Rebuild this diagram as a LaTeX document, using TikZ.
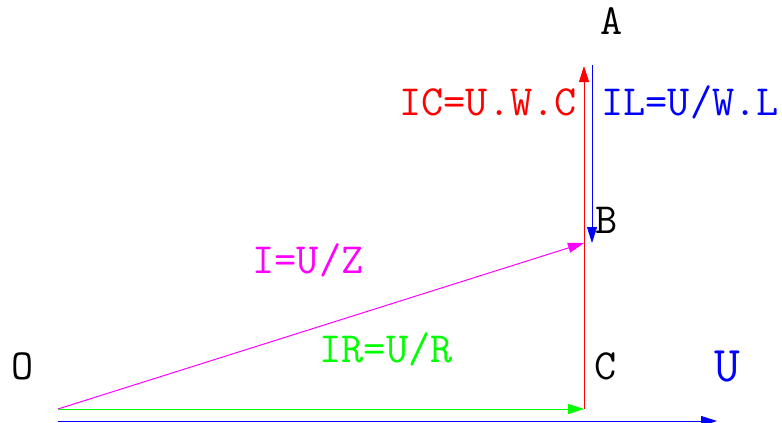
\documentclass[tikz,border=0pt]{standalone}
\usepackage{tikz}
\usetikzlibrary{arrows.meta}
\definecolor{vmag}{rgb}{1,0,1}
\definecolor{vgreen}{rgb}{0,1,0}

\begin{document}
\begin{tikzpicture}[x=0.5pt,y=-0.5pt,
  vec/.style={-{Triangle[length=8pt,width=5pt]}, line width=0.5pt},
  lbl/.style={font=\ttfamily\fontsize{21.5}{21.5}\selectfont, inner sep=0pt, anchor=base},
  big/.style={font=\ttfamily\fontsize{25}{25}\selectfont, inner sep=0pt, anchor=base}]
  \useasboundingbox (0,0) rectangle (782,423);
  % points of the diagram
  \coordinate (o) at (58,409);
  \coordinate (c) at (584,409);
  \coordinate (a) at (584,66);
  \coordinate (b) at (584,243);
  \coordinate (al) at (592,65);
  \coordinate (bl) at (592,243);
  \coordinate (u0) at (58,421);
  \coordinate (u1) at (717,421);
  % vectors
  \draw[vec, blue] (u0) -- (u1);
  \draw[vec, vgreen] (o) -- (c);
  \draw[vec, red] (c) -- (a);
  \draw[vec, blue] (al) -- (bl);
  \draw[vec, vmag] (o) -- (b);
  % labels
  \node[lbl] (na) at (612,34) {A};
  \node[lbl] (nb) at (607,233) {B};
  \node[lbl] (nc) at (606,379) {C};
  \node[lbl] (no) at (23,379) {O};
  \node[big, blue] (nu) at (727,381) {U};
  \node[lbl, red] (ic) at (488,115) {IC=U.W.C};
  \node[lbl, blue] (il) at (690,115) {IL=U/W.L};
  \node[lbl, vmag] (iz) at (308,273) {I=U/Z};
  \node[lbl, vgreen] (ir) at (386,362) {IR=U/R};
\end{tikzpicture}
\end{document}
